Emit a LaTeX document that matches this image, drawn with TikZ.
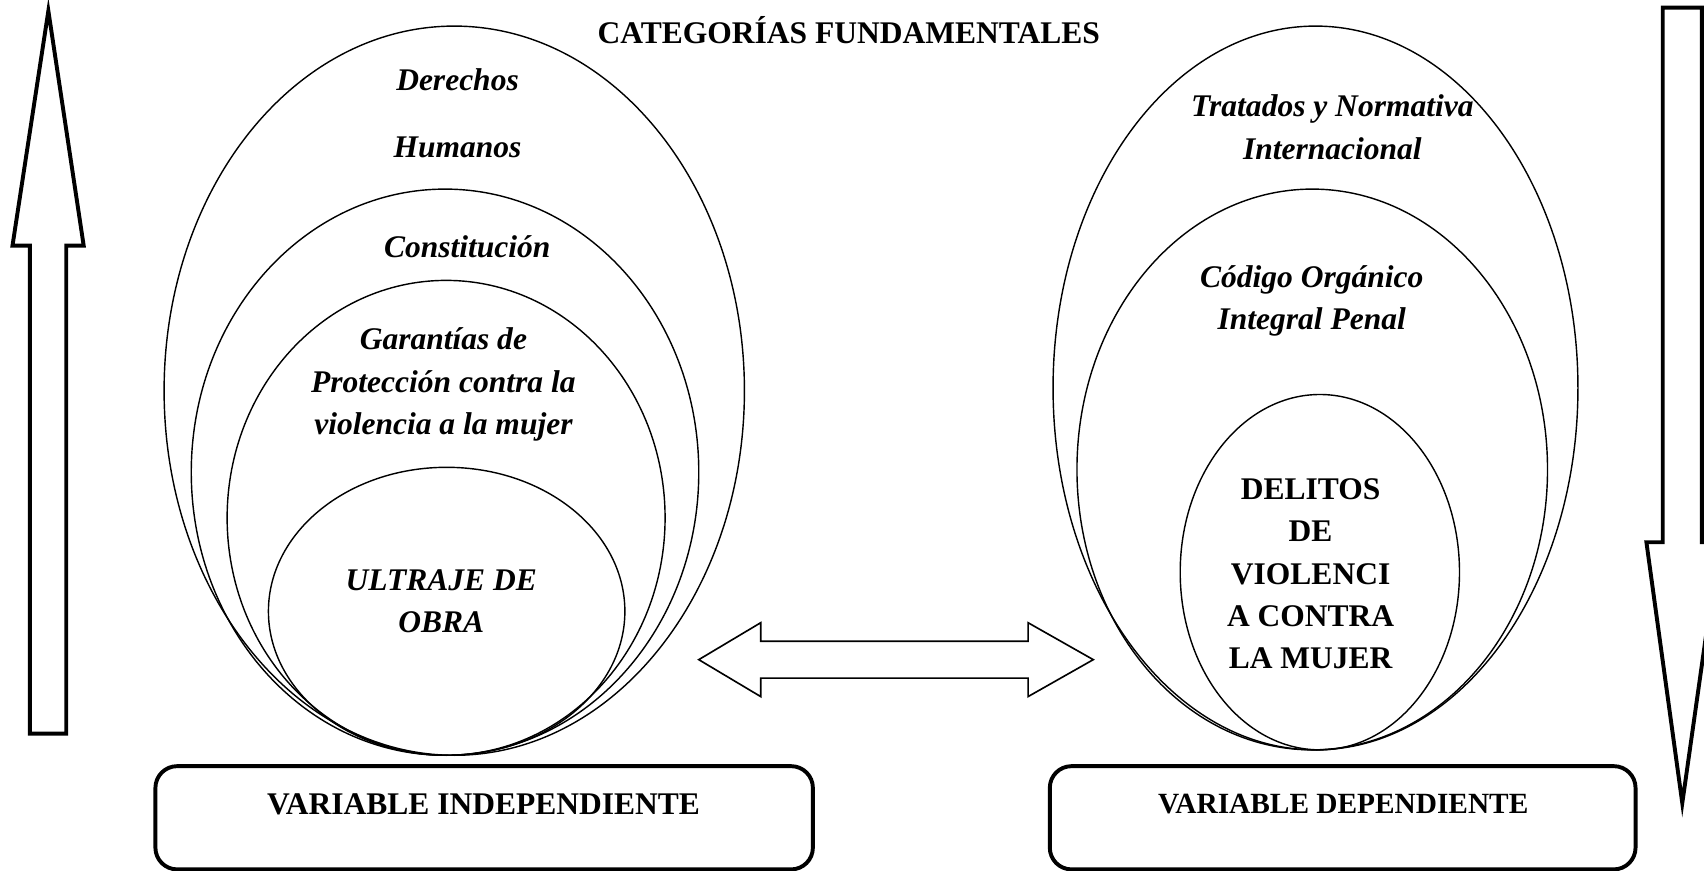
\documentclass[tikz,border=0pt]{standalone}
\usepackage{fontspec}
\setmainfont{Liberation Serif}
\usetikzlibrary{shapes.geometric}
\begin{document}
\begin{tikzpicture}[x=1pt,y=-1pt,
  ell/.style={draw,ellipse,inner sep=0pt,line width=1.3pt},
  lbl/.style={font=\fontsize{29}{39}\selectfont\bfseries\itshape,align=center,inner sep=0pt},
  lblup/.style={font=\fontsize{29}{39}\selectfont\bfseries,align=center,inner sep=0pt},
  varbox/.style={draw,line width=3.6pt,rounded corners=20pt,inner sep=0pt},
  blockarrow/.style={draw,line width=3.6pt,line join=miter,fill=white},
  dblarrow/.style={draw,line width=1.5pt,line join=miter,fill=white}]
\useasboundingbox (0,0) rectangle (1568,801);
% title
\node[lblup,font=\fontsize{29}{35}\selectfont\bfseries] (title) at (781,28) {CATEGORÍAS FUNDAMENTALES};
% left ellipses
\node[ell,minimum width=534pt,minimum height=671pt] (e1) at (418,359.5) {};
\node[ell,minimum width=467pt,minimum height=521pt] (e2) at (409.5,434.5) {};
\node[ell,minimum width=403pt,minimum height=437pt] (e3) at (410.5,476.5) {};
\node[ell,minimum width=328pt,minimum height=265pt] (e4) at (411,562.5) {};
% right ellipses
\node[ell,minimum width=483pt,minimum height=666pt] (r1) at (1210.5,357) {};
\node[ell,minimum width=433pt,minimum height=516pt] (r2) at (1207.5,432) {};
\node[ell,minimum width=257pt,minimum height=327pt] (r3) at (1214.5,526.5) {};
% left texts
\node[lbl] (t1a) at (421,73) {Derechos};
\node[lbl] (t1b) at (421,136) {Humanos};
\node[lbl] (t2) at (430,227) {Constitución};
\node[lbl] (t3) at (408,354) {Garantías de\\Protección contra la\\violencia a la mujer};
\node[lbl] (t4) at (406,553) {ULTRAJE DE\\OBRA};
% right texts
\node[lbl] (s1) at (1226,117) {Tratados y Normativa\\Internacional};
\node[lbl] (s2) at (1207,277) {Código Orgánico\\Integral Penal};
\node[lblup] (s3) at (1206,528) {DELITOS\\DE\\VIOLENCI\\A CONTRA\\LA MUJER};
% variable boxes
\node[varbox,minimum width=605pt,minimum height=95pt] (vi) at (445.5,752.5) {};
\node[lblup] (vit) at (445,740) {VARIABLE INDEPENDIENTE};
\node[varbox,minimum width=539pt,minimum height=95pt] (vd) at (1235.5,752.5) {};
\node[lblup,font=\fontsize{27}{33}\selectfont\bfseries] (vdt) at (1236,740) {VARIABLE DEPENDIENTE};
% double arrow
\draw[dblarrow] (643,607) -- (700,573) -- (700,590) -- (946,590) -- (946,573) -- (1006,607)
  -- (946,641) -- (946,624) -- (700,624) -- (700,641) -- cycle;
% up arrow (left)
\draw[blockarrow] (44.5,10) -- (77,226) -- (61,226) -- (61,675) -- (27.5,675) -- (27.5,226) -- (11.5,226) -- cycle;
% down arrow (right)
\draw[blockarrow] (1530,7) -- (1566,7) -- (1566,499) -- (1582,499) -- (1548,739) -- (1515,499) -- (1530,499) -- cycle;
\end{tikzpicture}
\end{document}
